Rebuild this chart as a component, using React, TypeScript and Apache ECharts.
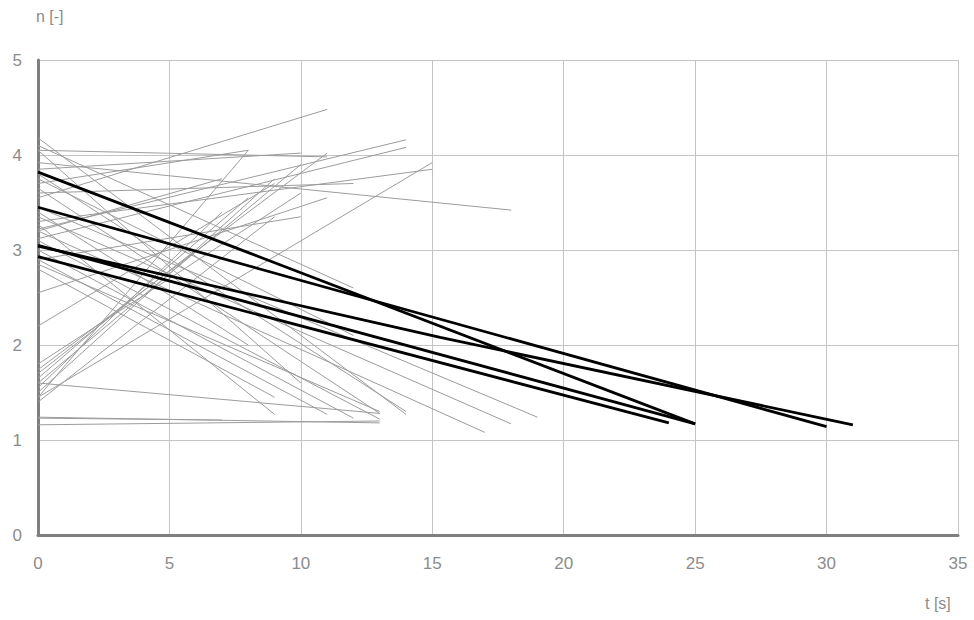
import React, { useEffect, useRef } from "react";
import * as echarts from "echarts";

// Gray measured runs: each starts at t = 0 and ends at grayEndT
const grayEndT = [
  8, 9, 10, 11, 7, 9, 8, 10, 15, 11, 11, 14, 14, 15, 8, 10, 6, 9, 7, 10, 11, 12,
  14, 9, 13, 19, 18, 17, 13, 12, 11, 12, 18, 13, 14, 9, 10, 8, 12,
  13, 13, 13, 7,
];
const grayStartN = [
  1.45, 1.5, 1.6, 1.74, 1.55, 1.4, 1.65, 1.8, 1.45, 2.55, 3.55, 3.22, 3.12, 3.3, 3.7, 2.9, 1.7, 2.2, 3.2, 3.85, 4.05, 3.6,
  4.18, 3.27, 3.65, 3.45, 3.35, 3.2, 3.1, 3.0, 2.9, 4.1, 3.92, 2.85, 3.8, 2.8, 4.05, 3.4, 3.75,
  1.6, 1.24, 1.16, 1.23,
];
const grayEndN = [
  4.05, 3.75, 3.9, 4.02, 3.4, 3.35, 3.55, 3.6, 3.92, 3.55, 4.48, 4.16, 4.08, 3.85, 4.05, 3.35, 3.0, 3.7, 3.75, 4.02, 3.98, 3.7,
  1.27, 1.27, 1.28, 1.24, 1.17, 1.08, 1.22, 1.23, 1.27, 2.6, 3.42, 1.3, 1.3, 1.45, 1.6, 2.0, 2.1,
  1.28, 1.18, 1.2, 1.21,
];

// Black lines
const blackT = [
  [0, 25],
  [0, 30],
  [0, 15.3, 31],
  [0, 25],
  [0, 24],
];
const blackN = [
  [3.82, 1.17],
  [3.45, 1.14],
  [3.04, 2.08, 1.16],
  [3.05, 1.17],
  [2.93, 1.18],
];

const xTicks = [0, 5, 10, 15, 20, 25, 30, 35];
const yTicks = [0, 1, 2, 3, 4, 5];

export default function App() {
  const ref = useRef<HTMLDivElement>(null);
  useEffect(() => {
    const chart = echarts.init(ref.current!, null, { renderer: "svg" });
    const series: any[] = [];
    grayEndT.forEach((t, i) => {
      series.push({
        type: "line",
        data: [
          [0, grayStartN[i]],
          [t, grayEndN[i]],
        ],
        symbol: "none",
        silent: true,
        lineStyle: { color: "#9c9c9c", width: 1 },
        z: 2,
      });
    });
    blackT.forEach((ts, i) => {
      series.push({
        type: "line",
        data: ts.map((t, j) => [t, blackN[i][j]]),
        symbol: "none",
        silent: true,
        lineStyle: { color: "#000000", width: 2.8 },
        z: 5,
      });
    });
    const labelStyle = { color: "#8c8c8c", fontSize: 17, fontFamily: "Liberation Sans" };
    chart.setOption({
      animation: false,
      backgroundColor: "#ffffff",
      grid: { left: 38, right: 16, top: 60, bottom: 85 },
      xAxis: {
        type: "value",
        min: xTicks[0],
        max: xTicks[xTicks.length - 1],
        interval: 5,
        axisLine: { lineStyle: { color: "#7f7f7f", width: 3 } },
        axisTick: { show: false },
        splitLine: { lineStyle: { color: "#c4c4c4", width: 1 } },
        axisLabel: { ...labelStyle, margin: 20 },
      },
      yAxis: {
        type: "value",
        min: yTicks[0],
        max: yTicks[yTicks.length - 1],
        interval: 1,
        axisLine: { show: true, lineStyle: { color: "#7f7f7f", width: 3 } },
        axisTick: { show: false },
        splitLine: { lineStyle: { color: "#c4c4c4", width: 1 } },
        axisLabel: { ...labelStyle, margin: 16 },
      },
      graphic: [
        {
          type: "text",
          left: 36,
          top: 8,
          style: { text: "n [-]", fill: "#8c8c8c", font: "16px 'Liberation Sans'" },
        },
        {
          type: "text",
          left: 925,
          top: 595,
          style: { text: "t [s]", fill: "#8c8c8c", font: "16px 'Liberation Sans'" },
        },
      ],
      series,
    });
    return () => chart.dispose();
  }, []);
  return (
    <div
      ref={ref}
      style={{ position: "fixed", left: 0, top: 0, width: 974, height: 620 }}
    />
  );
}
